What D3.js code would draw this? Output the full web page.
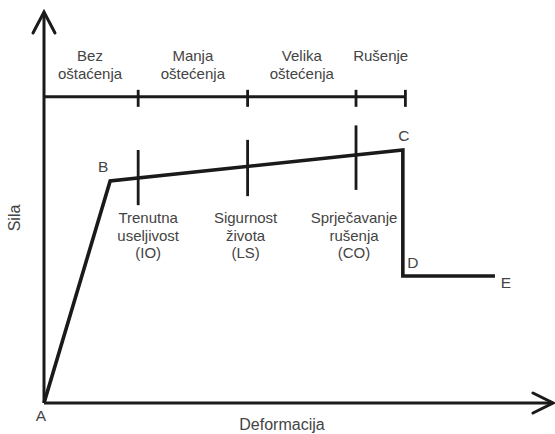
<!DOCTYPE html>
<html>
<head>
<meta charset="utf-8">
<script src="https://cdn.jsdelivr.net/npm/d3@7"></script>
<style>
  body { margin: 0; background: #fff; }
  text { font-family: "Liberation Sans", Arial, sans-serif; fill: #444; }
</style>
</head>
<body>
<div id="chart"></div>
<script>
// curve points (deformation, force) in relative units 0..100
var pointNames = ["A", "B", "C", "D", "E"];
var deformation = [0, 13, 70.5, 70.5, 88.6];
var force = [0, 56.8, 64.7, 32.5, 32.5];

// damage state bar
var damageBounds = [0, 18.5, 40, 61.3, 71];
var damageLabels = [["Bez", "oštaćenja"], ["Manja", "oštećenja"], ["Velika", "oštećenja"], ["Rušenje"]];
var damageLevel = 78.3;

// performance levels
var levelX = [18.5, 40, 61.3];
var levelLow = [50.6, 52.9, 54.5];
var levelHigh = [64.7, 67.3, 71];
var levelLabels = [["Trenutna", "useljivost", "(IO)"], ["Sigurnost", "života", "(LS)"], ["Sprječavanje", "rušenja", "(CO)"]];

var width = 555, height = 434;
var svg = d3.select("#chart").append("svg")
    .attr("width", width)
    .attr("height", height);

var x = d3.scaleLinear().domain([0, 100]).range([44, 553]);
var y = d3.scaleLinear().domain([0, 100]).range([403, 12]);
var ink = "#1a1a1a";

// axes with open arrow heads
svg.append("path")
    .attr("d", "M" + x(0) + "," + y(0) + "V" + y(100))
    .attr("stroke", ink).attr("stroke-width", 3).attr("fill", "none");
svg.append("path")
    .attr("d", "M" + (x(0) - 11) + "," + (y(100) + 21) + "L" + x(0) + "," + y(100) + "L" + (x(0) + 11) + "," + (y(100) + 21))
    .attr("stroke", ink).attr("stroke-width", 3).attr("fill", "none").attr("stroke-linecap", "round");
svg.append("path")
    .attr("d", "M" + x(0) + "," + y(0) + "H" + x(100))
    .attr("stroke", ink).attr("stroke-width", 3).attr("fill", "none");
svg.append("path")
    .attr("d", "M" + (x(100) - 20) + "," + (y(0) - 10) + "L" + x(100) + "," + y(0) + "L" + (x(100) - 20) + "," + (y(0) + 10))
    .attr("stroke", ink).attr("stroke-width", 3).attr("fill", "none").attr("stroke-linecap", "round");

// damage bar
svg.append("line")
    .attr("x1", x(0)).attr("x2", x(damageBounds[damageBounds.length - 1]))
    .attr("y1", y(damageLevel)).attr("y2", y(damageLevel))
    .attr("stroke", ink).attr("stroke-width", 3);
svg.selectAll(".dtick")
    .data(damageBounds.slice(1))
    .enter().append("line")
    .attr("x1", function(d) { return x(d); }).attr("x2", function(d) { return x(d); })
    .attr("y1", y(damageLevel) - 7).attr("y2", y(damageLevel) + 10)
    .attr("stroke", ink).attr("stroke-width", 2.8);

// multi-line labels as separate text rows
function addLines(lines, cx, y0, gap) {
    lines.forEach(function(s, j) {
        svg.append("text")
            .attr("x", cx).attr("y", y0 + j * gap)
            .attr("text-anchor", "middle")
            .attr("font-size", 15)
            .text(s);
    });
}

damageLabels.forEach(function(lines, i) {
    var cx = (x(damageBounds[i]) + x(damageBounds[i + 1])) / 2;
    if (i == 0) cx = 90;
    addLines(lines, cx, 61, 17.5);
});

// capacity curve
var line = d3.line()
    .x(function(d) { return x(d[0]); })
    .y(function(d) { return y(d[1]); });
svg.append("path")
    .datum(d3.zip(deformation, force))
    .attr("d", line)
    .attr("fill", "none").attr("stroke", ink).attr("stroke-width", 3.6)
    .attr("stroke-linejoin", "miter");

// performance level markers
svg.selectAll(".level")
    .data(levelX)
    .enter().append("line")
    .attr("x1", function(d) { return x(d); }).attr("x2", function(d) { return x(d); })
    .attr("y1", function(d, i) { return y(levelHigh[i]); })
    .attr("y2", function(d, i) { return y(levelLow[i]); })
    .attr("stroke", ink).attr("stroke-width", 2.8);

levelLabels.forEach(function(lines, i) {
    var cx = x(levelX[i]) + (i == 0 ? 10 : -2);
    addLines(lines, cx, 223, 17.5);
});

// point labels
var labelOffset = [[-3, 18], [-7, -9], [1, -9], [10, -8], [11, 12]];
svg.selectAll(".pl")
    .data(pointNames)
    .enter().append("text")
    .attr("x", function(d, i) { return x(deformation[i]) + labelOffset[i][0]; })
    .attr("y", function(d, i) { return y(force[i]) + labelOffset[i][1]; })
    .attr("text-anchor", "middle")
    .attr("font-size", 15.5)
    .text(function(d) { return d; });

// axis titles
svg.append("text")
    .attr("x", 282).attr("y", 430)
    .attr("text-anchor", "middle")
    .attr("font-size", 16)
    .text("Deformacija");
svg.append("text")
    .attr("transform", "translate(20,218) rotate(-90)")
    .attr("text-anchor", "middle")
    .attr("font-size", 16)
    .text("Sila");
</script>
</body>
</html>
